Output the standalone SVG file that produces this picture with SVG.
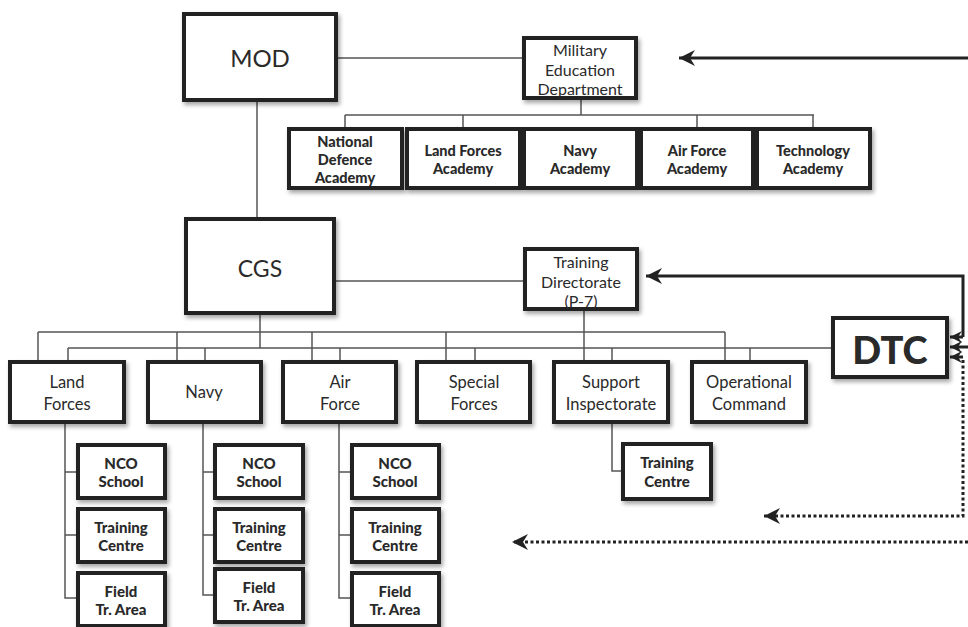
<svg xmlns="http://www.w3.org/2000/svg" width="968" height="627" viewBox="0 0 968 627">
<defs>
<filter id="sh" x="-10%" y="-10%" width="130%" height="140%">
<feDropShadow dx="2" dy="3" stdDeviation="2" flood-color="#000" flood-opacity="0.35"/>
</filter>
<marker id="ah" markerUnits="userSpaceOnUse" markerWidth="17" markerHeight="17" refX="16" refY="8" orient="auto-start-reverse">
<path d="M0,0 L16,8 L0,16 L5,8 z" fill="#222"/>
</marker>
<marker id="as" markerUnits="userSpaceOnUse" markerWidth="13" markerHeight="13" refX="12" refY="6" orient="auto-start-reverse">
<path d="M0,0 L12,6 L0,12 L4,6 z" fill="#222"/>
</marker>
<style>
.box{fill:#fff;stroke:#222;stroke-width:4;filter:url(#sh)}
.ln{stroke:#555;stroke-width:1.5;fill:none}
.ar{stroke:#222;stroke-width:3;fill:none}
.dt{stroke:#222;stroke-width:3;fill:none;stroke-dasharray:3 2.5}
.t{font-family:Lato,"Open Sans","Liberation Sans",sans-serif;fill:#2a2a2a;text-anchor:middle;dominant-baseline:central}
.r15{font-size:16px}
.r16{font-size:16.5px}
.b14{font-size:15px;font-weight:900}
.b13{font-size:14.5px;font-weight:900}
</style>
</defs>
<rect width="968" height="627" fill="#fff"/>

<g id="connectors">
<line class="ln" x1="336" y1="58" x2="524" y2="58"/>
<line class="ln" x1="581" y1="98" x2="581" y2="115"/>
<line class="ln" x1="345" y1="115" x2="814" y2="115"/>
<line class="ln" x1="345" y1="115" x2="345" y2="129"/>
<line class="ln" x1="463" y1="115" x2="463" y2="129"/>
<line class="ln" x1="697" y1="115" x2="697" y2="129"/>
<line class="ln" x1="813" y1="115" x2="813" y2="129"/>
<line class="ln" x1="257" y1="100" x2="257" y2="219"/>
<line class="ln" x1="334" y1="281" x2="525" y2="281"/>
<line class="ln" x1="260" y1="313" x2="260" y2="348"/>
<line class="ln" x1="38" y1="332" x2="725" y2="332"/>
<line class="ln" x1="38" y1="332" x2="38" y2="362"/>
<line class="ln" x1="177" y1="332" x2="177" y2="362"/>
<line class="ln" x1="312" y1="332" x2="312" y2="362"/>
<line class="ln" x1="446" y1="332" x2="446" y2="362"/>
<line class="ln" x1="725" y1="332" x2="725" y2="362"/>
<line class="ln" x1="584" y1="309" x2="584" y2="362"/>
<line class="ln" x1="68" y1="348" x2="833" y2="348"/>
<line class="ln" x1="68" y1="348" x2="68" y2="362"/>
<line class="ln" x1="205" y1="348" x2="205" y2="362"/>
<line class="ln" x1="340" y1="348" x2="340" y2="362"/>
<line class="ln" x1="475" y1="348" x2="475" y2="362"/>
<line class="ln" x1="612" y1="348" x2="612" y2="362"/>
<line class="ln" x1="750" y1="348" x2="750" y2="362"/>
<path class="ln" d="M65,422 V598 H78 M65,472 H78 M65,535 H78"/>
<path class="ln" d="M203,422 V595 H215 M203,472 H215 M203,535 H215"/>
<path class="ln" d="M339,422 V598 H352 M339,472 H352 M339,535 H352"/>
<path class="ln" d="M612,422 V471 H623"/>
<line class="ar" x1="968" y1="58" x2="679" y2="58" marker-end="url(#ah)"/>
<path class="ar" d="M646,276 H963 V337" marker-start="url(#ah)"/>
<line class="ar" x1="963" y1="337" x2="950" y2="337" marker-end="url(#as)"/>
<line class="ar" x1="968" y1="347" x2="950" y2="347" marker-end="url(#as)"/>
<path class="dt" d="M764,516 H963 V358" marker-start="url(#ah)"/>
<line class="ar" x1="963" y1="357" x2="950" y2="357" marker-end="url(#as)"/>
<line class="dt" x1="968" y1="542" x2="512" y2="542" marker-end="url(#ah)"/>
</g>

<g id="mod"><rect class="box" x="184" y="14" width="152" height="86"/><text class="t" x="260" y="57" font-size="24">MOD</text></g>
<g id="med"><rect class="box" x="524" y="38" width="112" height="60"/><text class="t r15" x="580" y="49">Military</text><text class="t r15" x="580" y="69">Education</text><text class="t r15" x="580" y="88">Department</text></g>

<g id="nda"><rect class="box" x="289" y="129" width="113" height="59"/><text class="t b13" x="345" y="141">National</text><text class="t b13" x="345" y="159">Defence</text><text class="t b13" x="345" y="177">Academy</text></g>
<g id="lfa"><rect class="box" x="407" y="129" width="113" height="59"/><text class="t b13" x="463" y="150">Land Forces</text><text class="t b13" x="463" y="168">Academy</text></g>
<g id="na"><rect class="box" x="524" y="129" width="113" height="59"/><text class="t b13" x="580" y="150">Navy</text><text class="t b13" x="580" y="168">Academy</text></g>
<g id="afa"><rect class="box" x="641" y="129" width="112" height="59"/><text class="t b13" x="697" y="150">Air Force</text><text class="t b13" x="697" y="168">Academy</text></g>
<g id="ta"><rect class="box" x="757" y="129" width="113" height="59"/><text class="t b13" x="813" y="150">Technology</text><text class="t b13" x="813" y="168">Academy</text></g>

<g id="cgs"><rect class="box" x="186" y="219" width="148" height="94"/><text class="t" x="260" y="268" font-size="23">CGS</text></g>
<g id="td"><rect class="box" x="525" y="249" width="112" height="60"/><text class="t r15" x="581" y="261">Training</text><text class="t r15" x="581" y="281">Directorate</text><text class="t r15" x="581" y="300">(P-7)</text></g>
<g id="dtc"><rect class="box" x="833" y="318" width="114" height="59"/><text class="t" x="890" y="349" font-size="38" font-weight="900">DTC</text></g>

<g id="lf"><rect class="box" x="10" y="362" width="114" height="60"/><text class="t r16" x="67" y="382">Land</text><text class="t r16" x="67" y="404">Forces</text></g>
<g id="navy"><rect class="box" x="148" y="362" width="113" height="60"/><text class="t r16" x="204" y="392">Navy</text></g>
<g id="af"><rect class="box" x="283" y="362" width="113" height="60"/><text class="t r16" x="340" y="382">Air</text><text class="t r16" x="340" y="404">Force</text></g>
<g id="sf"><rect class="box" x="417" y="362" width="113" height="60"/><text class="t r16" x="474" y="382">Special</text><text class="t r16" x="474" y="404">Forces</text></g>
<g id="si"><rect class="box" x="554" y="362" width="114" height="60"/><text class="t r16" x="611" y="382">Support</text><text class="t r16" x="611" y="404">Inspectorate</text></g>
<g id="oc"><rect class="box" x="692" y="362" width="114" height="60"/><text class="t r16" x="749" y="382">Operational</text><text class="t r16" x="749" y="404">Command</text></g>

<g id="lf-nco"><rect class="box" x="78" y="445" width="87" height="53"/><text class="t b14" x="121" y="463">NCO</text><text class="t b14" x="121" y="481">School</text></g>
<g id="lf-tc"><rect class="box" x="78" y="509" width="87" height="53"/><text class="t b14" x="121" y="527">Training</text><text class="t b14" x="121" y="545">Centre</text></g>
<g id="lf-ft"><rect class="box" x="78" y="573" width="87" height="53"/><text class="t b14" x="121" y="591">Field</text><text class="t b14" x="121" y="609">Tr. Area</text></g>

<g id="nv-nco"><rect class="box" x="215" y="445" width="88" height="53"/><text class="t b14" x="259" y="463">NCO</text><text class="t b14" x="259" y="481">School</text></g>
<g id="nv-tc"><rect class="box" x="215" y="509" width="88" height="53"/><text class="t b14" x="259" y="527">Training</text><text class="t b14" x="259" y="545">Centre</text></g>
<g id="nv-ft"><rect class="box" x="215" y="569" width="88" height="53"/><text class="t b14" x="259" y="587">Field</text><text class="t b14" x="259" y="605">Tr. Area</text></g>

<g id="af-nco"><rect class="box" x="352" y="445" width="87" height="53"/><text class="t b14" x="395" y="463">NCO</text><text class="t b14" x="395" y="481">School</text></g>
<g id="af-tc"><rect class="box" x="352" y="509" width="87" height="53"/><text class="t b14" x="395" y="527">Training</text><text class="t b14" x="395" y="545">Centre</text></g>
<g id="af-ft"><rect class="box" x="352" y="573" width="87" height="53"/><text class="t b14" x="395" y="591">Field</text><text class="t b14" x="395" y="609">Tr. Area</text></g>

<g id="si-tc"><rect class="box" x="623" y="444" width="88" height="55"/><text class="t b14" x="667" y="462">Training</text><text class="t b14" x="667" y="481">Centre</text></g>
</svg>
